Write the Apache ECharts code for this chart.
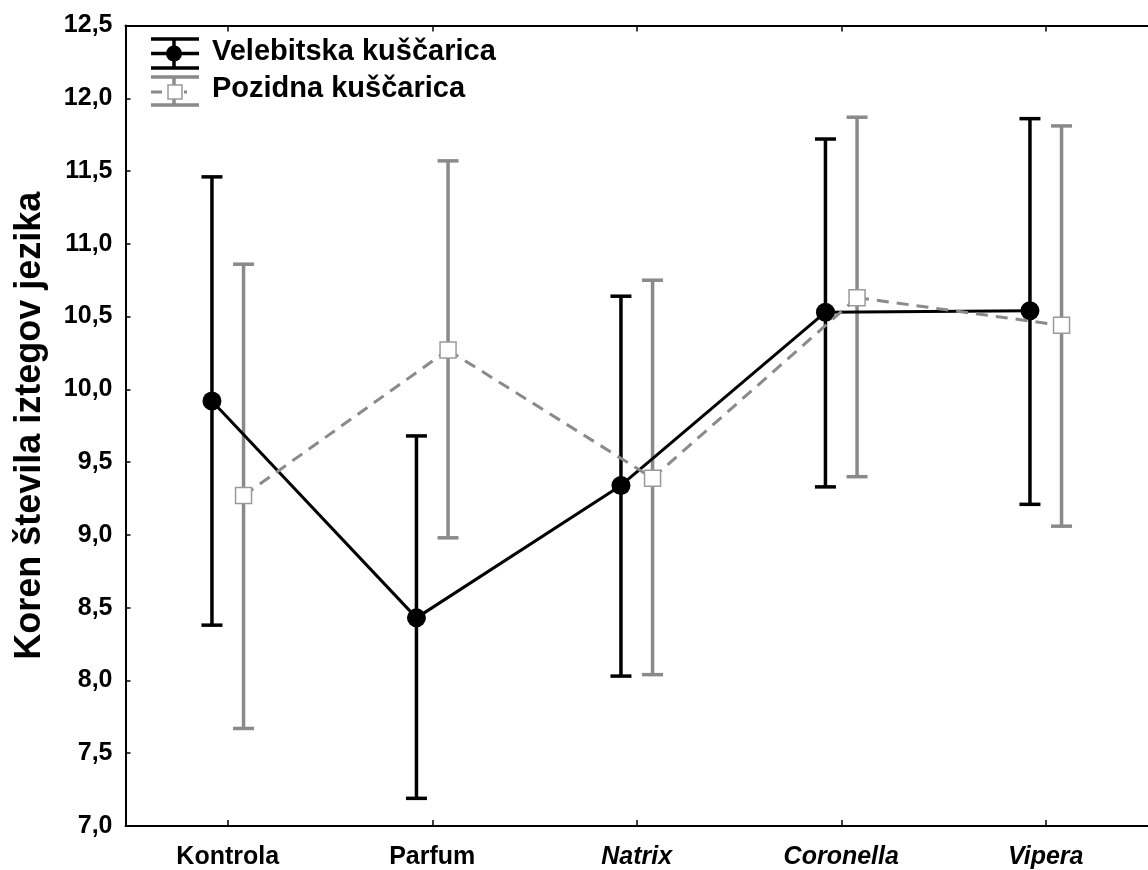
<!DOCTYPE html>
<html>
<head>
<meta charset="utf-8">
<script src="https://cdn.jsdelivr.net/npm/echarts@6/dist/echarts.min.js"></script>
<style>
  html, body { margin: 0; padding: 0; background: #ffffff; }
  #chart { width: 1148px; height: 870px; }
</style>
</head>
<body>
<div id="chart"></div>
<script>
// Treatment groups along the x axis
const categories = ['Kontrola', 'Parfum', 'Natrix', 'Coronella', 'Vipera'];
const italicCategories = ['Natrix', 'Coronella', 'Vipera'];

// Velebitska kuščarica: mean and interval bounds
const velebitskaMean = [9.92, 8.43, 9.34, 10.53, 10.54];
const velebitskaLow  = [8.38, 7.19, 8.03, 9.33, 9.21];
const velebitskaHigh = [11.46, 9.68, 10.64, 11.72, 11.86];

// Pozidna kuščarica: mean and interval bounds
const pozidnaMean = [9.27, 10.27, 9.39, 10.63, 10.44];
const pozidnaLow  = [7.67, 8.98, 8.04, 9.40, 9.06];
const pozidnaHigh = [10.86, 11.57, 10.75, 11.87, 11.81];

// Y axis range and labels
const yMin = 7.0, yMax = 12.5, yStep = 0.5;
const yTitle = 'Koren števila iztegov jezika';
const seriesNames = ['Velebitska kuščarica', 'Pozidna kuščarica'];

const FONT = '"Liberation Sans", Arial, Helvetica, sans-serif';
const BLACK = '#000000';
const GRAY = '#8a8a8a';
const SQUARE_EDGE = '#9a9a9a';
const SHIFT = 15.8;      // horizontal pixel shift of each group within a category
const CAP_HALF = 10.5;

const chart = echarts.init(document.getElementById('chart'), null, { renderer: 'canvas' });

function errorBarSeries(low, high, color, shift, z) {
  return {
    type: 'custom',
    z: z,
    silent: true,
    data: low.map((l, i) => [i, l, high[i]]),
    renderItem: function (params, api) {
      const lo = api.coord([api.value(0), api.value(1)]);
      const hi = api.coord([api.value(0), api.value(2)]);
      const x = lo[0] + shift;
      const st = { stroke: color, lineWidth: 3.5 };
      return {
        type: 'group',
        children: [
          { type: 'line', shape: { x1: x, y1: lo[1], x2: x, y2: hi[1] }, style: st },
          { type: 'line', shape: { x1: x - CAP_HALF, y1: lo[1], x2: x + CAP_HALF, y2: lo[1] }, style: st },
          { type: 'line', shape: { x1: x - CAP_HALF, y1: hi[1], x2: x + CAP_HALF, y2: hi[1] }, style: st }
        ]
      };
    }
  };
}

function connectorSeries(mean, color, shift, dash, z) {
  return {
    type: 'custom',
    z: z,
    silent: true,
    data: mean.map((m, i) => [i, m]),
    renderItem: function (params, api) {
      const i = params.dataIndex;
      if (i >= mean.length - 1) return { type: 'group', children: [] };
      const a = api.coord([i, mean[i]]);
      const b = api.coord([i + 1, mean[i + 1]]);
      return {
        type: 'line',
        shape: { x1: a[0] + shift, y1: a[1], x2: b[0] + shift, y2: b[1] },
        style: { stroke: color, lineWidth: 3, lineDash: dash, lineCap: 'butt' }
      };
    }
  };
}

function markerSeries(mean, kind, shift, z) {
  return {
    type: 'custom',
    z: z,
    silent: true,
    data: mean.map((m, i) => [i, m]),
    renderItem: function (params, api) {
      const p = api.coord([api.value(0), api.value(1)]);
      const x = p[0] + shift;
      if (kind === 'circle') {
        return { type: 'circle', shape: { cx: x, cy: p[1], r: 9.5 }, style: { fill: BLACK } };
      }
      return {
        type: 'rect',
        shape: { x: x - 8, y: p[1] - 8, width: 16, height: 16 },
        style: { fill: '#ffffff', stroke: SQUARE_EDGE, lineWidth: 1.5 }
      };
    }
  };
}

const axisLineStyle = { color: BLACK, width: 2 };

const option = {
  backgroundColor: '#ffffff',
  animation: false,
  grid: { left: 125.5, top: 25.5, width: 1032, height: 801.8, show: false },
  xAxis: [
    {
      type: 'category',
      data: categories.map(c => italicCategories.includes(c)
        ? { value: c, textStyle: { fontStyle: 'italic' } } : c),
      boundaryGap: true,
      axisLine: { lineStyle: axisLineStyle },
      axisTick: { show: true, inside: true, length: 6, alignWithLabel: true, lineStyle: { color: BLACK, width: 1.5 } },
      axisLabel: { color: BLACK, fontFamily: FONT, fontWeight: 'bold', fontSize: 25, margin: 19, interval: 0 },
      splitLine: { show: false }
    },
    {
      type: 'category',
      position: 'top',
      data: categories,
      boundaryGap: true,
      axisLine: { lineStyle: axisLineStyle },
      axisTick: { show: true, inside: true, length: 6, alignWithLabel: true, lineStyle: { color: BLACK, width: 1.5 } },
      axisLabel: { show: false },
      splitLine: { show: false }
    }
  ],
  yAxis: {
    type: 'value',
    min: yMin,
    max: yMax,
    interval: yStep,
    name: yTitle,
    nameLocation: 'middle',
    nameGap: 77,
    nameTextStyle: { color: BLACK, fontFamily: FONT, fontWeight: 'bold', fontSize: 36 },
    axisLine: { show: true, lineStyle: axisLineStyle },
    axisTick: { show: true, inside: true, length: 5, lineStyle: { color: BLACK, width: 1.5 } },
    axisLabel: {
      color: BLACK, fontFamily: FONT, fontWeight: 'bold', fontSize: 25, margin: 13,
      formatter: v => v.toFixed(1).replace('.', ',')
    },
    splitLine: { show: false }
  },
  series: [
    errorBarSeries(pozidnaLow, pozidnaHigh, GRAY, SHIFT, 2),
    errorBarSeries(velebitskaLow, velebitskaHigh, BLACK, -SHIFT, 3),
    connectorSeries(velebitskaMean, BLACK, -SHIFT, null, 4),
    markerSeries(velebitskaMean, 'circle', -SHIFT, 5),
    connectorSeries(pozidnaMean, GRAY, SHIFT, [12, 8], 6),
    markerSeries(pozidnaMean, 'square', SHIFT, 7)
  ],
  graphic: [
    {
      type: 'group',
      x: 0, y: 0,
      children: [
        // Velebitska kuščarica key
        { type: 'line', shape: { x1: 151, y1: 39, x2: 199, y2: 39 }, style: { stroke: BLACK, lineWidth: 3.5 } },
        { type: 'line', shape: { x1: 151, y1: 68, x2: 199, y2: 68 }, style: { stroke: BLACK, lineWidth: 3.5 } },
        { type: 'line', shape: { x1: 174, y1: 39, x2: 174, y2: 68 }, style: { stroke: BLACK, lineWidth: 3.5 } },
        { type: 'line', shape: { x1: 151, y1: 53.5, x2: 199, y2: 53.5 }, style: { stroke: BLACK, lineWidth: 3.5 } },
        { type: 'circle', shape: { cx: 174, cy: 53.5, r: 8 }, style: { fill: BLACK } },
        {
          type: 'text', x: 212, y: 52,
          style: { text: seriesNames[0], fill: BLACK, font: 'bold 29px ' + FONT, verticalAlign: 'middle', align: 'left' }
        },
        // Pozidna kuščarica key
        { type: 'line', shape: { x1: 151, y1: 77, x2: 199, y2: 77 }, style: { stroke: GRAY, lineWidth: 3.5 } },
        { type: 'line', shape: { x1: 151, y1: 105, x2: 199, y2: 105 }, style: { stroke: GRAY, lineWidth: 3.5 } },
        { type: 'line', shape: { x1: 174, y1: 77, x2: 174, y2: 105 }, style: { stroke: GRAY, lineWidth: 3.5 } },
        { type: 'line', shape: { x1: 151, y1: 92, x2: 162, y2: 92 }, style: { stroke: GRAY, lineWidth: 3 } },
        { type: 'line', shape: { x1: 184, y1: 92, x2: 187, y2: 92 }, style: { stroke: GRAY, lineWidth: 3 } },
        { type: 'rect', shape: { x: 168, y: 85, width: 14, height: 14 }, style: { fill: '#ffffff', stroke: SQUARE_EDGE, lineWidth: 1.5 } },
        {
          type: 'text', x: 212, y: 89,
          style: { text: seriesNames[1], fill: BLACK, font: 'bold 29px ' + FONT, verticalAlign: 'middle', align: 'left' }
        }
      ]
    }
  ]
};

chart.setOption(option);
</script>
</body>
</html>
